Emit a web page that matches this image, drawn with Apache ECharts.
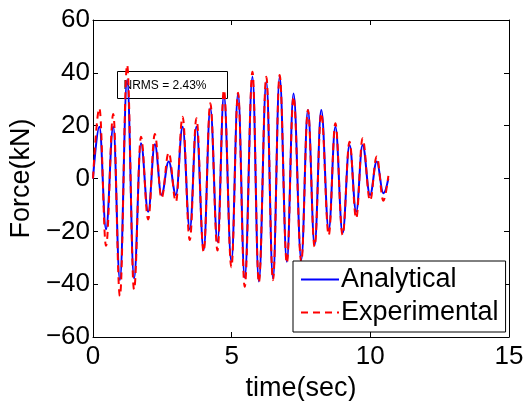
<!DOCTYPE html>
<html><head><meta charset="utf-8">
<script src="https://cdn.jsdelivr.net/npm/echarts@6/dist/echarts.min.js"></script>
<style>html,body{margin:0;padding:0;background:#fff}#c{width:526px;height:401px}</style>
</head><body><div id="c"></div>
<script>
const time = [0, 0.23, 0.47, 0.73, 0.97, 1.23, 1.48, 1.73, 1.99, 2.23, 2.47, 2.73, 2.99, 3.23, 3.49, 3.73, 3.99, 4.23, 4.49, 4.72, 4.99, 5.23, 5.47, 5.75, 5.98, 6.25, 6.49, 6.73, 6.99, 7.23, 7.51, 7.75, 7.99, 8.23, 8.50, 8.74, 9.00, 9.25, 9.49, 9.72, 9.99, 10.23, 10.47, 10.65];
const analytical = [0, 19.6, -19.2, 19.6, -38.4, 37.3, -37.8, 13.3, -12.6, 13, -6.2, 6.4, -6.2, 19.6, -19.2, 19.6, -27, 26.6, -23.9, 31.6, -31.5, 32.2, -37.5, 38.5, -39, 36.6, -37.8, 38.5, -31.5, 32.2, -30.8, 25.9, -25.2, 25.9, -19.5, 19.6, -20.7, 12.7, -12.6, 12.7, -6.2, 6.4, -5.6, 0];
const experimental = [0, 26.6, -25.5, 24.4, -44.5, 43, -42, 15.8, -15.5, 16.8, -7.5, 9.8, -8.8, 23.4, -23.3, 22.8, -27.7, 28.5, -27.3, 33.5, -33.6, 32.5, -41, 40.4, -39.4, 38.5, -38.5, 39.2, -32, 31, -31.5, 25.9, -25.8, 24.7, -21.4, 20.9, -21.4, 13.9, -15.1, 15.2, -8.4, 8.3, -8.4, 1];
const xTicks = [0, 5, 10, 15];
const yTicks = [-60, -40, -20, 0, 20, 40, 60];
const seriesNames = ['Analytical', 'Experimental'];
const annotation = 'NRMS = 2.43%';

const FONT = 'Liberation Sans, Arial, Helvetica, sans-serif';
const toPairs = (ys) => time.map((t, i) => [t, ys[i]]);
const chart = echarts.init(document.getElementById('c'), null, {renderer: 'canvas'});
const baseX = {type: 'value', min: xTicks[0], max: xTicks[xTicks.length - 1], interval: 5,
  axisLine: {onZero: false, lineStyle: {color: '#000', width: 1}}, splitLine: {show: false},
  axisTick: {inside: true, length: 5, lineStyle: {color: '#000'}}};
const baseY = {type: 'value', min: yTicks[0], max: yTicks[yTicks.length - 1], interval: 20,
  axisLine: {onZero: false, lineStyle: {color: '#000', width: 1}}, splitLine: {show: false},
  axisTick: {inside: true, length: 5, lineStyle: {color: '#000'}}};
chart.setOption({
  animation: false,
  backgroundColor: '#fff',
  grid: {left: 93, top: 20, width: 416, height: 317, containLabel: false, outerBoundsMode: 'none'},
  xAxis: [
    Object.assign({}, baseX, {position: 'bottom', name: 'time(sec)', nameLocation: 'middle', nameGap: 34,
      nameTextStyle: {fontSize: 27, color: '#000', fontFamily: FONT},
      axisLabel: {fontSize: 26, color: '#000', fontFamily: FONT, margin: 7}}),
    Object.assign({}, baseX, {position: 'top', axisLabel: {show: false}})
  ],
  yAxis: [
    Object.assign({}, baseY, {position: 'left', name: 'Force(kN)', nameLocation: 'middle', nameGap: 57, nameRotate: 90,
      nameTextStyle: {fontSize: 27, color: '#000', fontFamily: FONT},
      axisLabel: {fontSize: 26, color: '#000', fontFamily: FONT, margin: 3,
        formatter: v => (v < 0 ? '\u2212' + Math.abs(v) : String(v))}}),
    Object.assign({}, baseY, {position: 'right', axisLabel: {show: false}})
  ],
  legend: {
    orient: 'vertical', left: 293, top: 261, data: seriesNames,
    backgroundColor: '#fff', borderColor: '#000', borderWidth: 1, borderRadius: 0,
    padding: [5, 7, 6, 7], itemWidth: 38, itemHeight: 14, itemGap: 6,
    itemStyle: {opacity: 0},
    textStyle: {fontSize: 27, color: '#000', fontFamily: FONT, padding: [0, 0, 0, -3]}
  },
  series: [
    {name: seriesNames[0], type: 'line', data: toPairs(analytical), showSymbol: false, symbol: 'none',
      smooth: 0.4, smoothMonotone: 'x', lineStyle: {color: '#0000ff', width: 2}, itemStyle: {color: '#0000ff'}, z: 2},
    {name: seriesNames[1], type: 'line', data: toPairs(experimental), showSymbol: false, symbol: 'none',
      smooth: 0.4, smoothMonotone: 'x', lineStyle: {color: '#ff0000', width: 2, type: [7, 5]}, itemStyle: {color: '#ff0000'}, z: 3}
  ],
  graphic: [{
    type: 'group', left: 117, top: 71, z: 10,
    children: [
      {type: 'rect', shape: {x: 0, y: 0, width: 110, height: 27}, style: {fill: 'transparent', stroke: '#000', lineWidth: 1}},
      {type: 'text', x: 6, y: 14, style: {text: annotation, fontSize: 12, fill: '#000', font: '12px ' + FONT, verticalAlign: 'middle'}}
    ]
  }]
});
</script></body></html>
